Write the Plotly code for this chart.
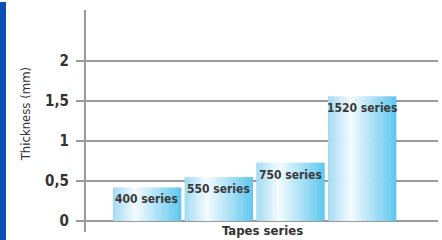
import plotly.graph_objects as go

categories = ["400 series", "550 series", "750 series", "1520 series"]
thickness = [0.42, 0.55, 0.73, 1.56]
tick_vals = [0, 0.5, 1, 1.5, 2]
tick_text = ["0", "0,5", "1", "1,5", "2"]

FONT = "DejaVu Sans Condensed, Liberation Sans Narrow, Roboto, sans-serif"

def lerp(c1, c2, t):
    return tuple(round(a + (b - a) * t) for a, b in zip(c1, c2))

stops = [(0.0, (160, 218, 243)), (0.33, (244, 251, 254)), (1.0, (92, 198, 238))]

def grad(t):
    for (t0, c0), (t1, c1) in zip(stops[:-1], stops[1:]):
        if t <= t1:
            return "rgb(%d,%d,%d)" % lerp(c0, c1, (t - t0) / (t1 - t0))
    return "rgb(%d,%d,%d)" % stops[-1][1]

xs = list(range(len(categories)))
W = 0.95
N = 30
fig = go.Figure()
for k in range(N):
    t = (k + 0.5) / N
    fig.add_trace(go.Bar(
        x=xs, y=thickness, width=W / N * 1.15, offset=-W / 2 + k * W / N,
        marker=dict(color=grad(t), line=dict(width=0)),
        hoverinfo="skip", showlegend=False,
    ))

for i, (c, v) in enumerate(zip(categories, thickness)):
    fig.add_annotation(x=i, y=v, text="<b>%s</b>" % c, showarrow=False,
                       xanchor="center", yanchor="top", yshift=-3,
                       font=dict(family=FONT, size=12, color="#3a3a3a"))

fig.add_annotation(x=0.5, y=0.046, xref="paper", yref="paper", text="<b>Tapes series</b>",
                   showarrow=False, xanchor="center", yanchor="top", borderpad=0,
                   font=dict(family=FONT, size=13, color="#333333"))
fig.add_annotation(x=(25 - 86) / 352, y=0.53, xref="paper", yref="paper", text="Thickness (mm)",
                   textangle=-90, showarrow=False, xanchor="center", yanchor="middle",
                   font=dict(family=FONT, size=13, color="#333333"))

fig.add_shape(type="rect", xref="paper", yref="paper", x0=-86 / 352, x1=-80 / 352,
              y0=-8 / 222, y1=230 / 222, fillcolor="#0a4fb5", line=dict(width=0))

fig.update_layout(
    width=442, height=240, barmode="overlay",
    margin=dict(l=86, r=4, t=10, b=8),
    paper_bgcolor="white", plot_bgcolor="white",
    xaxis=dict(range=[-0.85, 4.06], showticklabels=False, showgrid=False,
               zeroline=False, showline=False, ticks="", automargin=False),
    yaxis=dict(range=[-0.1375, 2.64], tickvals=tick_vals,
               ticktext=["<b>%s</b>" % s for s in tick_text],
               showgrid=True, gridcolor="#999999", gridwidth=2, zeroline=False,
               showline=True, linecolor="#999999", linewidth=2,
               ticks="outside", ticklen=8, tickcolor="#999999", tickwidth=2,
               tickfont=dict(family=FONT, size=15, color="#333333"),
               ticklabelstandoff=4, automargin=False),
)

fig.write_html("out.html", config={"displayModeBar": False},
               post_script="document.body.style.margin='0px';")
